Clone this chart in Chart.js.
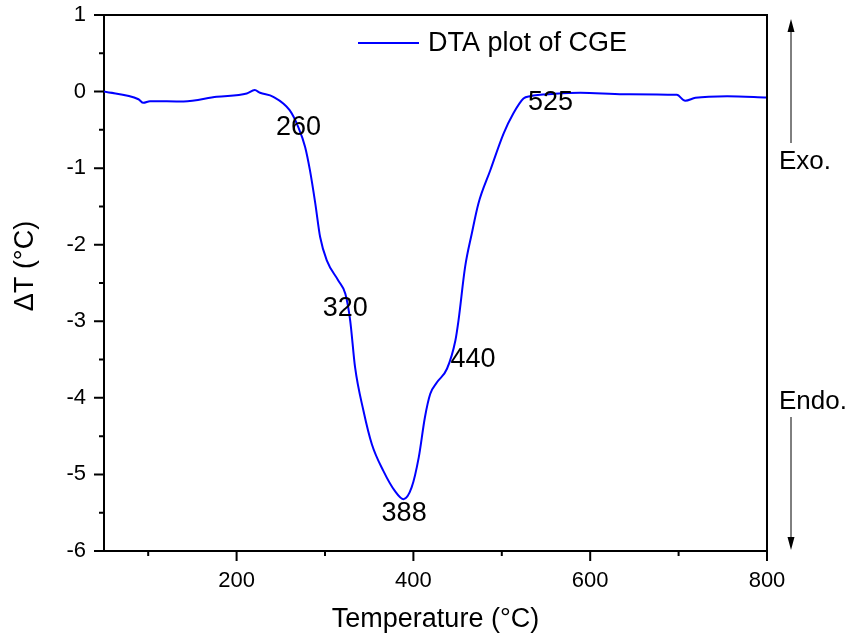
<!DOCTYPE html>
<html lang="en">
<head>
<meta charset="UTF-8">
<title>DTA plot of CGE</title>
<script src="https://cdn.jsdelivr.net/npm/chart.js"></script>
<style>
  html, body { margin: 0; padding: 0; background: #fff; }
  canvas { display: block; }
</style>
</head>
<body>
<canvas id="dta" width="854" height="637"></canvas>
<script>
  // values
  const temps = [50, 89, 94.5, 102, 140, 177.5, 211.5, 220.5, 226.5, 241.5, 260, 270, 277.5, 283, 289, 294.5,
    302, 315, 323, 328.5, 334, 343.5, 353, 366, 379, 388.8, 398, 406, 413, 419, 426.5, 438, 447.5, 451,
    458.5, 466, 473.5, 487, 502, 513, 524.5, 532, 560, 589, 638, 698, 707.5, 719, 755, 800];
  const deltaT = [0, -0.10, -0.147, -0.125, -0.13, -0.068, -0.025, 0.019, -0.016, -0.068, -0.243, -0.47, -0.723, -1.03, -1.46, -1.90,
    -2.205, -2.467, -2.641, -2.99, -3.60, -4.168, -4.605, -4.953, -5.215, -5.324, -5.17, -4.78, -4.256, -3.95, -3.80, -3.62, -3.25, -2.99,
    -2.29, -1.857, -1.464, -1.028, -0.548, -0.286, -0.09, -0.06, -0.03, -0.016, -0.034, -0.043, -0.121, -0.082, -0.06, -0.077];
  const xTicks = [200, 400, 600, 800];
  const xMinorTicks = [100, 300, 500, 700];
  const yTicks = [-6, -5, -4, -3, -2, -1, 0, 1];
  const yMinorTicks = [-5.5, -4.5, -3.5, -2.5, -1.5, -0.5, 0.5];
  const peakLabels = ['260', '320', '388', '440', '525'];

  // where the peak labels sit (data units)
  const peakLabelAt = [[270, -0.47], [323, -2.83], [389.5, -5.51], [467.5, -3.5], [555, -0.14]];

  const FONT = "'Liberation Sans', Arial, sans-serif";

  const decor = {
    id: 'decor',
    afterDraw(chart) {
      const ctx = chart.ctx;
      const a = chart.chartArea;
      const xs = chart.scales.x, ys = chart.scales.y;
      ctx.save();
      ctx.strokeStyle = '#000';
      ctx.fillStyle = '#000';

      // top + right frame
      ctx.lineWidth = 2;
      ctx.beginPath();
      ctx.moveTo(a.left, a.top);
      ctx.lineTo(a.right, a.top);
      ctx.lineTo(a.right, a.bottom);
      ctx.stroke();

      // tick marks
      ctx.beginPath();
      xTicks.forEach(v => { const p = xs.getPixelForValue(v); ctx.moveTo(p, a.bottom); ctx.lineTo(p, a.bottom + 10); });
      xMinorTicks.forEach(v => { const p = xs.getPixelForValue(v); ctx.moveTo(p, a.bottom); ctx.lineTo(p, a.bottom + 5); });
      yTicks.forEach(v => { const p = ys.getPixelForValue(v); ctx.moveTo(a.left, p); ctx.lineTo(a.left - 10, p); });
      yMinorTicks.forEach(v => { const p = ys.getPixelForValue(v); ctx.moveTo(a.left, p); ctx.lineTo(a.left - 5, p); });
      ctx.stroke();

      // y axis title (sits a bit above the axis middle in the original)
      ctx.font = '27px ' + FONT;
      ctx.textBaseline = 'middle';
      ctx.textAlign = 'center';
      ctx.save();
      ctx.translate(26, 266);
      ctx.rotate(-Math.PI / 2);
      ctx.fillText('ΔT (°C)', 0, 0);
      ctx.restore();

      // legend
      const ds = chart.data.datasets[0];
      ctx.strokeStyle = ds.borderColor;
      ctx.lineWidth = 2;
      ctx.beginPath();
      ctx.moveTo(358, 43);
      ctx.lineTo(419, 43);
      ctx.stroke();
      ctx.textAlign = 'left';
      ctx.fillText(ds.label, 428, 44);

      // peak temperatures
      ctx.textAlign = 'center';
      peakLabels.forEach((t, i) => {
        ctx.fillText(t, xs.getPixelForValue(peakLabelAt[i][0]), ys.getPixelForValue(peakLabelAt[i][1]));
      });

      // Exo / Endo arrows
      const ax = 791;
      ctx.strokeStyle = '#000';
      ctx.lineWidth = 1;
      ctx.beginPath();
      ctx.moveTo(ax, 30); ctx.lineTo(ax, 143);
      ctx.moveTo(ax, 417); ctx.lineTo(ax, 538);
      ctx.stroke();
      ctx.beginPath();
      ctx.moveTo(ax, 19); ctx.lineTo(ax - 3.5, 32); ctx.lineTo(ax + 3.5, 32); ctx.closePath();
      ctx.moveTo(ax, 550); ctx.lineTo(ax - 3.5, 537); ctx.lineTo(ax + 3.5, 537); ctx.closePath();
      ctx.fill();
      ctx.textAlign = 'left';
      ctx.font = '26px ' + FONT;
      ctx.fillText('Exo.', 779, 162);
      ctx.fillText('Endo.', 779, 402);
      ctx.restore();
    }
  };

  new Chart(document.getElementById('dta'), {
    type: 'line',
    data: {
      datasets: [{
        label: 'DTA plot of CGE',
        data: temps.map((t, i) => ({ x: t, y: deltaT[i] })),
        borderColor: '#0000ff',
        borderWidth: 2,
        pointRadius: 0,
        fill: false,
        cubicInterpolationMode: 'monotone'
      }]
    },
    options: {
      responsive: false,
      animation: false,
      devicePixelRatio: 1,
      layout: { padding: { top: 15, right: 87, left: 0, bottom: 0 } },
      plugins: { legend: { display: false }, tooltip: { enabled: false } },
      scales: {
        x: {
          type: 'linear',
          min: 50,
          max: 800,
          afterBuildTicks: s => { s.ticks = xTicks.map(v => ({ value: v })); },
          afterFit: s => { s.height = 86; s.paddingLeft = 0; s.paddingRight = 0; },
          grid: { display: false, drawTicks: false },
          border: { display: true, color: '#000', width: 2 },
          ticks: { color: '#000', font: { family: FONT, size: 22 }, padding: 17, maxRotation: 0 },
          title: { display: true, text: 'Temperature (°C)', color: '#000', font: { family: FONT, size: 27 }, padding: { top: 0, bottom: 1 } }
        },
        y: {
          type: 'linear',
          min: -6,
          max: 1,
          afterBuildTicks: s => { s.ticks = yTicks.map(v => ({ value: v })); },
          afterFit: s => { s.width = 104; s.paddingTop = 0; s.paddingBottom = 0; },
          grid: { display: false, drawTicks: false },
          border: { display: true, color: '#000', width: 2 },
          ticks: { color: '#000', font: { family: FONT, size: 22 }, padding: 18, callback: v => String(v) },
          title: { display: false }
        }
      }
    },
    plugins: [decor]
  });
</script>
</body>
</html>
